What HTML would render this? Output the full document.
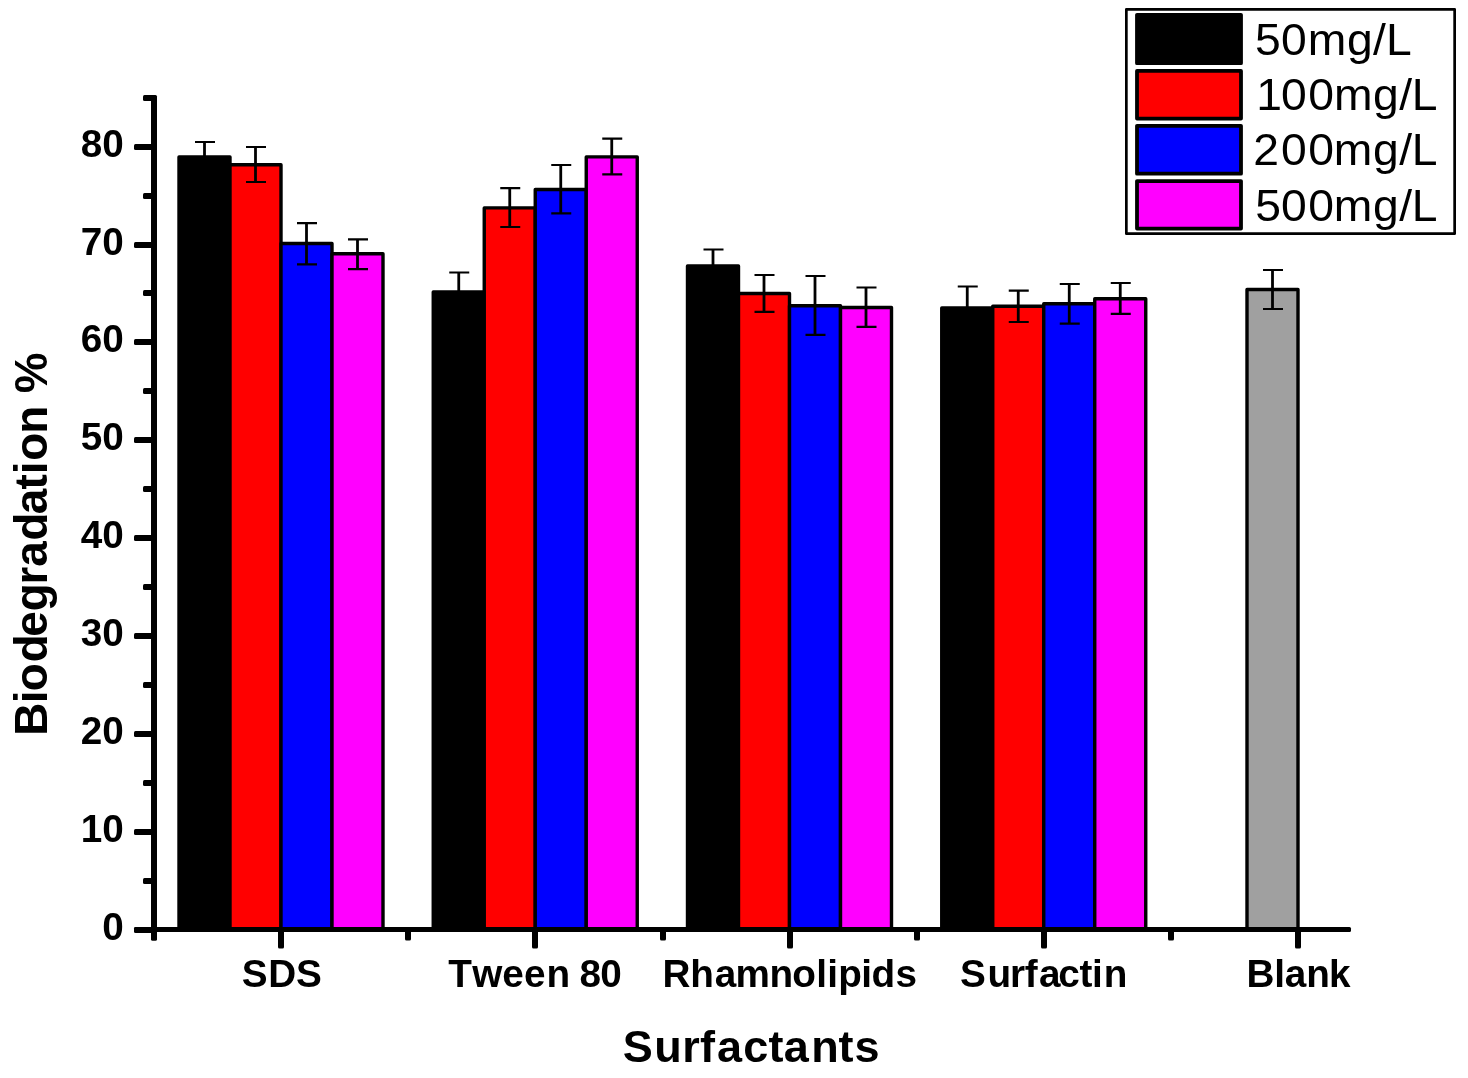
<!DOCTYPE html><html><head><meta charset="utf-8"><style>html,body{margin:0;padding:0;background:#fff;}svg{display:block;will-change:transform;}text{font-family:"Liberation Sans",sans-serif;}</style></head><body>
<svg width="1468" height="1078" viewBox="0 0 1468 1078">
<rect x="0" y="0" width="1468" height="1078" fill="#fff"/>
<rect x="179.00" y="157.00" width="51.00" height="772.50" fill="#000000" stroke="#000" stroke-width="3.4" stroke-linejoin="round"/>
<rect x="230.00" y="164.70" width="51.00" height="764.80" fill="#ff0000" stroke="#000" stroke-width="3.4" stroke-linejoin="round"/>
<rect x="281.00" y="243.50" width="51.00" height="686.00" fill="#0000ff" stroke="#000" stroke-width="3.4" stroke-linejoin="round"/>
<rect x="332.00" y="253.80" width="51.00" height="675.70" fill="#ff00ff" stroke="#000" stroke-width="3.4" stroke-linejoin="round"/>
<path d="M204.50 142.00V172.00" stroke="#000" stroke-width="2.8" fill="none"/>
<path d="M195.00 142.00H215.00M195.00 172.00H215.00" stroke="#000" stroke-width="2.2" fill="none"/>
<path d="M255.50 147.00V182.00" stroke="#000" stroke-width="2.8" fill="none"/>
<path d="M246.00 147.00H266.00M246.00 182.00H266.00" stroke="#000" stroke-width="2.2" fill="none"/>
<path d="M306.50 223.10V264.30" stroke="#000" stroke-width="2.8" fill="none"/>
<path d="M297.00 223.10H317.00M297.00 264.30H317.00" stroke="#000" stroke-width="2.2" fill="none"/>
<path d="M357.50 239.40V269.20" stroke="#000" stroke-width="2.8" fill="none"/>
<path d="M348.00 239.40H368.00M348.00 269.20H368.00" stroke="#000" stroke-width="2.2" fill="none"/>
<rect x="433.25" y="292.00" width="51.00" height="637.50" fill="#000000" stroke="#000" stroke-width="3.4" stroke-linejoin="round"/>
<rect x="484.25" y="207.90" width="51.00" height="721.60" fill="#ff0000" stroke="#000" stroke-width="3.4" stroke-linejoin="round"/>
<rect x="535.25" y="189.50" width="51.00" height="740.00" fill="#0000ff" stroke="#000" stroke-width="3.4" stroke-linejoin="round"/>
<rect x="586.25" y="156.90" width="51.00" height="772.60" fill="#ff00ff" stroke="#000" stroke-width="3.4" stroke-linejoin="round"/>
<path d="M458.75 272.50V311.50" stroke="#000" stroke-width="2.8" fill="none"/>
<path d="M449.25 272.50H469.25M449.25 311.50H469.25" stroke="#000" stroke-width="2.2" fill="none"/>
<path d="M509.75 188.10V227.00" stroke="#000" stroke-width="2.8" fill="none"/>
<path d="M500.25 188.10H520.25M500.25 227.00H520.25" stroke="#000" stroke-width="2.2" fill="none"/>
<path d="M560.75 165.00V213.40" stroke="#000" stroke-width="2.8" fill="none"/>
<path d="M551.25 165.00H571.25M551.25 213.40H571.25" stroke="#000" stroke-width="2.2" fill="none"/>
<path d="M611.75 138.70V174.30" stroke="#000" stroke-width="2.8" fill="none"/>
<path d="M602.25 138.70H622.25M602.25 174.30H622.25" stroke="#000" stroke-width="2.2" fill="none"/>
<rect x="687.50" y="265.90" width="51.00" height="663.60" fill="#000000" stroke="#000" stroke-width="3.4" stroke-linejoin="round"/>
<rect x="738.50" y="293.50" width="51.00" height="636.00" fill="#ff0000" stroke="#000" stroke-width="3.4" stroke-linejoin="round"/>
<rect x="789.50" y="305.70" width="51.00" height="623.80" fill="#0000ff" stroke="#000" stroke-width="3.4" stroke-linejoin="round"/>
<rect x="840.50" y="307.50" width="51.00" height="622.00" fill="#ff00ff" stroke="#000" stroke-width="3.4" stroke-linejoin="round"/>
<path d="M713.00 249.50V282.30" stroke="#000" stroke-width="2.8" fill="none"/>
<path d="M703.50 249.50H723.50M703.50 282.30H723.50" stroke="#000" stroke-width="2.2" fill="none"/>
<path d="M764.00 275.00V311.80" stroke="#000" stroke-width="2.8" fill="none"/>
<path d="M754.50 275.00H774.50M754.50 311.80H774.50" stroke="#000" stroke-width="2.2" fill="none"/>
<path d="M815.00 276.00V334.80" stroke="#000" stroke-width="2.8" fill="none"/>
<path d="M805.50 276.00H825.50M805.50 334.80H825.50" stroke="#000" stroke-width="2.2" fill="none"/>
<path d="M866.00 287.50V326.90" stroke="#000" stroke-width="2.8" fill="none"/>
<path d="M856.50 287.50H876.50M856.50 326.90H876.50" stroke="#000" stroke-width="2.2" fill="none"/>
<rect x="941.75" y="307.90" width="51.00" height="621.60" fill="#000000" stroke="#000" stroke-width="3.4" stroke-linejoin="round"/>
<rect x="992.75" y="306.30" width="51.00" height="623.20" fill="#ff0000" stroke="#000" stroke-width="3.4" stroke-linejoin="round"/>
<rect x="1043.75" y="303.80" width="51.00" height="625.70" fill="#0000ff" stroke="#000" stroke-width="3.4" stroke-linejoin="round"/>
<rect x="1094.75" y="298.70" width="51.00" height="630.80" fill="#ff00ff" stroke="#000" stroke-width="3.4" stroke-linejoin="round"/>
<path d="M967.25 286.50V329.30" stroke="#000" stroke-width="2.8" fill="none"/>
<path d="M957.75 286.50H977.75M957.75 329.30H977.75" stroke="#000" stroke-width="2.2" fill="none"/>
<path d="M1018.25 290.60V322.00" stroke="#000" stroke-width="2.8" fill="none"/>
<path d="M1008.75 290.60H1028.75M1008.75 322.00H1028.75" stroke="#000" stroke-width="2.2" fill="none"/>
<path d="M1069.25 284.00V323.70" stroke="#000" stroke-width="2.8" fill="none"/>
<path d="M1059.75 284.00H1079.75M1059.75 323.70H1079.75" stroke="#000" stroke-width="2.2" fill="none"/>
<path d="M1120.25 283.00V313.90" stroke="#000" stroke-width="2.8" fill="none"/>
<path d="M1110.75 283.00H1130.75M1110.75 313.90H1130.75" stroke="#000" stroke-width="2.2" fill="none"/>
<rect x="1247.00" y="289.50" width="51.00" height="640.00" fill="#a0a0a0" stroke="#000" stroke-width="3.4" stroke-linejoin="round"/>
<path d="M1272.50 270.00V309.00" stroke="#000" stroke-width="2.8" fill="none"/>
<path d="M1263.00 270.00H1283.00M1263.00 309.00H1283.00" stroke="#000" stroke-width="2.2" fill="none"/>
<g fill="#000"><rect x="151.00" y="95.00" width="6.00" height="845.50" rx="1.5"/><rect x="134.00" y="927.00" width="1217.00" height="5.00" rx="1.5"/><rect x="134.00" y="927.00" width="20.00" height="6.00" rx="1.5"/><rect x="134.00" y="829.00" width="20.00" height="6.00" rx="1.5"/><rect x="134.00" y="731.00" width="20.00" height="6.00" rx="1.5"/><rect x="134.00" y="633.00" width="20.00" height="6.00" rx="1.5"/><rect x="134.00" y="535.00" width="20.00" height="6.00" rx="1.5"/><rect x="134.00" y="437.00" width="20.00" height="6.00" rx="1.5"/><rect x="134.00" y="339.00" width="20.00" height="6.00" rx="1.5"/><rect x="134.00" y="242.00" width="20.00" height="6.00" rx="1.5"/><rect x="134.00" y="144.00" width="20.00" height="6.00" rx="1.5"/><rect x="143.00" y="878.00" width="11.00" height="6.00" rx="1.5"/><rect x="143.00" y="780.00" width="11.00" height="6.00" rx="1.5"/><rect x="143.00" y="682.00" width="11.00" height="6.00" rx="1.5"/><rect x="143.00" y="584.00" width="11.00" height="6.00" rx="1.5"/><rect x="143.00" y="486.00" width="11.00" height="6.00" rx="1.5"/><rect x="143.00" y="388.00" width="11.00" height="6.00" rx="1.5"/><rect x="143.00" y="290.00" width="11.00" height="6.00" rx="1.5"/><rect x="143.00" y="193.00" width="11.00" height="6.00" rx="1.5"/><rect x="143.00" y="95.00" width="11.00" height="6.00" rx="1.5"/><rect x="278.00" y="929.00" width="6.00" height="19.60" rx="1.5"/><rect x="532.00" y="929.00" width="6.00" height="19.60" rx="1.5"/><rect x="787.00" y="929.00" width="6.00" height="19.60" rx="1.5"/><rect x="1041.00" y="929.00" width="6.00" height="19.60" rx="1.5"/><rect x="1295.00" y="929.00" width="6.00" height="19.60" rx="1.5"/><rect x="151.00" y="929.00" width="6.00" height="11.50" rx="1.5"/><rect x="405.00" y="929.00" width="6.00" height="11.50" rx="1.5"/><rect x="660.00" y="929.00" width="6.00" height="11.50" rx="1.5"/><rect x="914.00" y="929.00" width="6.00" height="11.50" rx="1.5"/><rect x="1168.00" y="929.00" width="6.00" height="11.50" rx="1.5"/></g>
<text x="123.7" y="939.50" font-size="38.7" font-weight="bold" text-anchor="end">0</text>
<text x="123.7" y="841.65" font-size="38.7" font-weight="bold" text-anchor="end">10</text>
<text x="123.7" y="743.80" font-size="38.7" font-weight="bold" text-anchor="end">20</text>
<text x="123.7" y="645.95" font-size="38.7" font-weight="bold" text-anchor="end">30</text>
<text x="123.7" y="548.10" font-size="38.7" font-weight="bold" text-anchor="end">40</text>
<text x="123.7" y="450.25" font-size="38.7" font-weight="bold" text-anchor="end">50</text>
<text x="123.7" y="352.40" font-size="38.7" font-weight="bold" text-anchor="end">60</text>
<text x="123.7" y="254.55" font-size="38.7" font-weight="bold" text-anchor="end">70</text>
<text x="123.7" y="156.70" font-size="38.7" font-weight="bold" text-anchor="end">80</text>
<text x="241.79 268.31 295.99" y="987" font-size="38.7" font-weight="bold">SDS</text>
<text x="448.37 472.21 502.19 523.89 546.55 568.00 579.57 600.27" y="987" font-size="38.7" font-weight="bold">Tween 80</text>
<text x="662.41 690.20 714.67 735.45 769.55 792.29 816.20 827.20 838.25 861.20 871.41 895.44" y="987" font-size="38.7" font-weight="bold">Rhamnolipids</text>
<text x="959.89 987.40 1009.95 1024.74 1038.97 1058.19 1079.53 1092.00 1103.75" y="987" font-size="38.7" font-weight="bold">Surfactin</text>
<text x="1246.41 1274.30 1284.77 1306.35 1329.10" y="987" font-size="38.7" font-weight="bold">Blank</text>
<text x="622.80 654.21 682.13 700.03 716.88 743.14 768.55 783.68 811.13 838.55 854.42" y="1062.2" font-size="45.0" font-weight="bold">Surfactants</text>
<text transform="translate(47.2 0) rotate(-90)" x="-735.76 -703.20 -691.19 -662.28 -636.79 -611.18 -584.42 -566.74 -540.38 -514.24 -489.46 -474.20 -460.79 -433.72 -407.00 -393.24" y="0" font-size="45.8" font-weight="bold">Biodegradation %</text>
<rect x="1126.35" y="9.35" width="328.3" height="224.3" fill="#fff" stroke="#000" stroke-width="2.7" stroke-linejoin="round"/>
<rect x="1137" y="14.8" width="104" height="48.4" fill="#000000" stroke="#000" stroke-width="3.8" stroke-linejoin="round"/>
<rect x="1137" y="70.9" width="104" height="47.7" fill="#ff0000" stroke="#000" stroke-width="3.8" stroke-linejoin="round"/>
<rect x="1137" y="125.8" width="104" height="47.9" fill="#0000ff" stroke="#000" stroke-width="3.8" stroke-linejoin="round"/>
<rect x="1137" y="181.1" width="104" height="47.5" fill="#ff00ff" stroke="#000" stroke-width="3.8" stroke-linejoin="round"/>
<text x="1206.68 1231.63 1257.53 1295.25 1320.19 1332.79" y="54.7" font-size="44.5" font-weight="normal" transform="scale(1.04 1)">50mg/L</text>
<text x="1207.96 1231.63 1257.88 1282.81 1320.25 1345.38 1357.41" y="109.7" font-size="44.5" font-weight="normal" transform="scale(1.04 1)">100mg/L</text>
<text x="1205.17 1231.63 1257.88 1282.53 1320.25 1345.38 1357.41" y="165.0" font-size="44.5" font-weight="normal" transform="scale(1.04 1)">200mg/L</text>
<text x="1206.97 1231.63 1257.88 1282.53 1320.25 1345.38 1357.41" y="221.1" font-size="44.5" font-weight="normal" transform="scale(1.04 1)">500mg/L</text>
</svg></body></html>
